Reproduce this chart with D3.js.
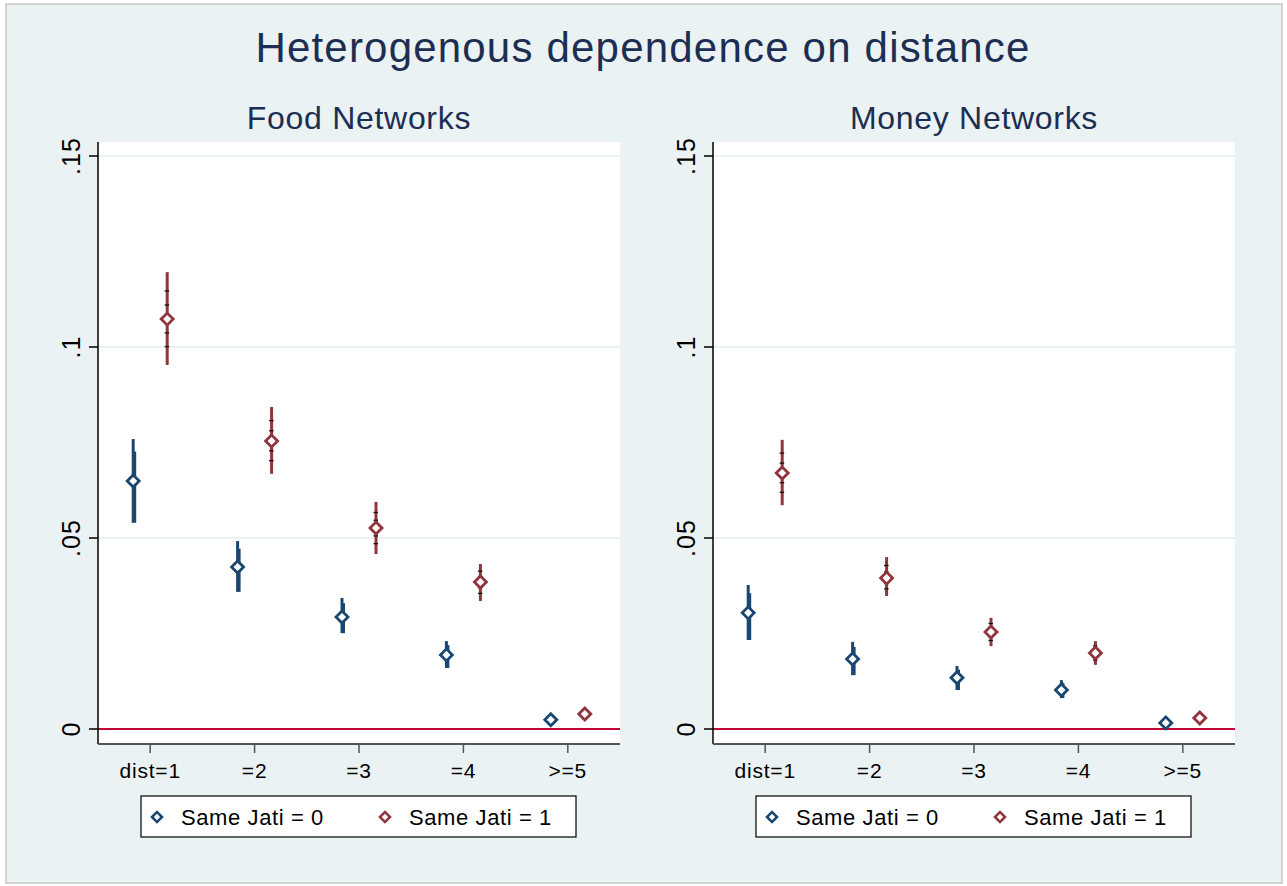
<!DOCTYPE html>
<html>
<head>
<meta charset="utf-8">
<script src="https://cdn.jsdelivr.net/npm/d3@7"></script>
<style>
  body { margin: 0; background: #fff; }
  text { font-family: Arial, "Liberation Sans", sans-serif; }
</style>
</head>
<body>
<div id="chart"></div>
<script>
// categories on the x axis
var distLabels = ["dist=1", "=2", "=3", "=4", ">=5"];
var yTicks = [0, 0.05, 0.1, 0.15];
var yTickText = ["0", ".05", ".1", ".15"];
var groups = ["Same Jati = 0", "Same Jati = 1"];
var panelTitles = ["Food Networks", "Money Networks"];

// Food networks: estimate, lower, upper
var foodJati0 = [0.0649, 0.0424, 0.0293, 0.0194, 0.0024];
var foodJati0Lo = [0.0540, 0.0359, 0.0251, 0.0160, 0.0014];
var foodJati0Hi = [0.0759, 0.0492, 0.0343, 0.0230, 0.0034];
var foodJati1 = [0.1073, 0.0754, 0.0526, 0.0385, 0.0039];
var foodJati1Lo = [0.0953, 0.0668, 0.0458, 0.0335, 0.0031];
var foodJati1Hi = [0.1196, 0.0843, 0.0594, 0.0432, 0.0047];

// Money networks
var moneyJati0 = [0.0304, 0.0183, 0.0134, 0.0102, 0.0016];
var moneyJati0Lo = [0.0233, 0.0141, 0.0102, 0.0081, 0.0010];
var moneyJati0Hi = [0.0377, 0.0228, 0.0165, 0.0128, 0.0022];
var moneyJati1 = [0.0670, 0.0395, 0.0254, 0.0199, 0.0029];
var moneyJati1Lo = [0.0586, 0.0348, 0.0217, 0.0168, 0.0022];
var moneyJati1Hi = [0.0757, 0.0450, 0.0291, 0.0230, 0.0036];

var colors = ["#1a476f", "#90353b"];
var bg = "#eaf2f3";
var W = 1287, H = 886;

var svg = d3.select("#chart").append("svg")
    .attr("width", W).attr("height", H);

svg.append("rect")
    .attr("x", 6).attr("y", 4).attr("width", 1276).attr("height", 879)
    .attr("fill", bg).attr("stroke", "#c8c8c8").attr("stroke-width", 1.5);

svg.append("text")
    .attr("x", 643).attr("y", 62)
    .attr("text-anchor", "middle")
    .attr("font-size", 42)
    .attr("letter-spacing", 1.2)
    .attr("fill", "#1c2e52")
    .text("Heterogenous dependence on distance");

var panels = [
    {x0: 98, title: panelTitles[0], series: [
        {v: foodJati0, lo: foodJati0Lo, hi: foodJati0Hi},
        {v: foodJati1, lo: foodJati1Lo, hi: foodJati1Hi}]},
    {x0: 713, title: panelTitles[1], series: [
        {v: moneyJati0, lo: moneyJati0Lo, hi: moneyJati0Hi},
        {v: moneyJati1, lo: moneyJati1Lo, hi: moneyJati1Hi}]}
];

var diamond = d3.symbol().type(d3.symbolSquare).size(72);

panels.forEach(function(p){
    var pw = 522, top = 142, bottom = 744;
    var x = d3.scaleLinear().domain([0.5, 5.5]).range([p.x0, p.x0 + pw]);
    var y = d3.scaleLinear().domain([0, 0.15]).range([729, 156]);
    var g = svg.append("g");

    g.append("text")
        .attr("x", p.x0 + pw / 2).attr("y", 129)
        .attr("text-anchor", "middle")
        .attr("font-size", 32)
        .attr("letter-spacing", 0.7)
        .attr("fill", "#1c2e52")
        .text(p.title);

    // plot area
    g.append("rect")
        .attr("x", p.x0).attr("y", top)
        .attr("width", pw).attr("height", bottom - top)
        .attr("fill", "#fff");

    // gridlines
    g.selectAll(".grid").data(yTicks.slice(1)).enter().append("line")
        .attr("x1", p.x0).attr("x2", p.x0 + pw)
        .attr("y1", function(d){ return y(d); })
        .attr("y2", function(d){ return y(d); })
        .attr("stroke", bg).attr("stroke-width", 2);

    // zero line
    g.append("line")
        .attr("x1", p.x0).attr("x2", p.x0 + pw)
        .attr("y1", y(0)).attr("y2", y(0))
        .attr("stroke", "#c10534").attr("stroke-width", 2);

    // y axis
    g.append("line")
        .attr("x1", p.x0).attr("x2", p.x0).attr("y1", top).attr("y2", bottom)
        .attr("stroke", "#000").attr("stroke-width", 1.5);
    g.selectAll(".yt").data(yTicks).enter().append("line")
        .attr("x1", p.x0 - 9).attr("x2", p.x0)
        .attr("y1", function(d){ return y(d); })
        .attr("y2", function(d){ return y(d); })
        .attr("stroke", "#000").attr("stroke-width", 1.5);
    g.selectAll(".yl").data(yTicks).enter().append("text")
        .attr("transform", function(d){ return "translate(" + (p.x0 - 18) + "," + y(d) + ") rotate(-90)"; })
        .attr("text-anchor", "middle")
        .attr("font-size", 25)
        .attr("letter-spacing", 1)
        .text(function(d, i){ return yTickText[i]; });

    // x axis
    g.append("line")
        .attr("x1", p.x0).attr("x2", p.x0 + pw).attr("y1", bottom).attr("y2", bottom)
        .attr("stroke", "#555").attr("stroke-width", 2);
    g.selectAll(".xt").data(distLabels).enter().append("line")
        .attr("x1", function(d, i){ return x(i + 1); })
        .attr("x2", function(d, i){ return x(i + 1); })
        .attr("y1", bottom).attr("y2", bottom + 9)
        .attr("stroke", "#555").attr("stroke-width", 1.5);
    g.selectAll(".xl").data(distLabels).enter().append("text")
        .attr("x", function(d, i){ return x(i + 1); })
        .attr("y", 778)
        .attr("text-anchor", "middle")
        .attr("font-size", 21)
        .attr("letter-spacing", 0.8)
        .text(function(d){ return d; });

    // error bars and markers
    p.series.forEach(function(s, k){
        var off = k == 0 ? -17 : 17;
        var pts = s.v.map(function(v, i){ return {i: i, v: v, lo: s.lo[i], hi: s.hi[i]}; });
        g.selectAll(".bar" + k).data(pts).enter().append("line")
            .attr("x1", function(d){ return x(d.i + 1) + off; })
            .attr("x2", function(d){ return x(d.i + 1) + off; })
            .attr("y1", function(d){ return y(d.lo); })
            .attr("y2", function(d){ return y(d.hi); })
            .attr("stroke", colors[k])
            .attr("stroke-width", 3);
        if (k == 0) {
            // second, slightly shorter stroke that makes the blue bars look heavier
            g.selectAll(".bar2").data(pts).enter().append("line")
                .attr("x1", function(d){ return x(d.i + 1) + off + 1.5; })
                .attr("x2", function(d){ return x(d.i + 1) + off + 1.5; })
                .attr("y1", function(d){ return y(d.lo); })
                .attr("y2", function(d){ return y(d.hi) + (y(d.lo) - y(d.hi)) * 0.15; })
                .attr("stroke", colors[k])
                .attr("stroke-width", 3);
        } else {
            // little black dashes along the red bars
            var dashes = [];
            pts.forEach(function(d){
                if (d.hi - d.lo < 0.003) return;
                [0.3, 0.6].forEach(function(f){
                    dashes.push({i: d.i, v: d.v + (d.hi - d.v) * f});
                    dashes.push({i: d.i, v: d.v - (d.v - d.lo) * f});
                });
            });
            g.selectAll(".dash").data(dashes).enter().append("line")
                .attr("x1", function(d){ return x(d.i + 1) + off - 2.5; })
                .attr("x2", function(d){ return x(d.i + 1) + off + 2; })
                .attr("y1", function(d){ return y(d.v); })
                .attr("y2", function(d){ return y(d.v); })
                .attr("stroke", "#111")
                .attr("stroke-width", 1.3);
        }
        g.selectAll(".pt" + k).data(pts).enter().append("path")
            .attr("d", diamond)
            .attr("transform", function(d){ return "translate(" + (x(d.i + 1) + off) + "," + y(d.v) + ") rotate(45)"; })
            .attr("fill", "#fff")
            .attr("stroke", colors[k])
            .attr("stroke-width", 2.8);
    });

    // legend
    var lx = p.x0 + 43, ly = 796;
    g.append("rect")
        .attr("x", lx).attr("y", ly).attr("width", 435).attr("height", 41)
        .attr("fill", "#fff").attr("stroke", "#000").attr("stroke-width", 1.2);
    groups.forEach(function(name, k){
        var gx = lx + 16 + k * 228;
        g.append("path")
            .attr("d", d3.symbol().type(d3.symbolSquare).size(50))
            .attr("transform", "translate(" + gx + "," + (ly + 21) + ") rotate(45)")
            .attr("fill", "#fff").attr("stroke", colors[k]).attr("stroke-width", 2.6);
        g.append("text")
            .attr("x", gx + 24).attr("y", ly + 29)
            .attr("font-size", 22)
            .attr("letter-spacing", 0.6)
            .text(name);
    });
});
</script>
</body>
</html>
